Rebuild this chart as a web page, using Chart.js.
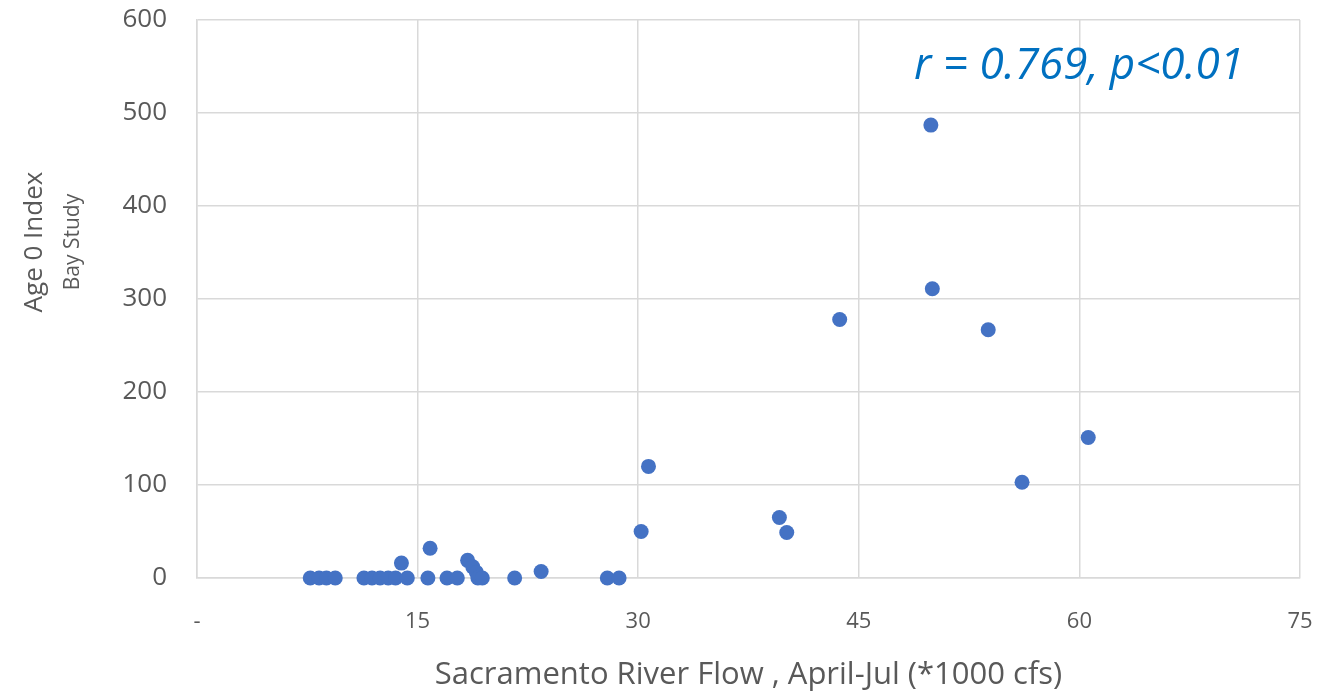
<!DOCTYPE html>
<html>
<head>
<meta charset="utf-8">
<script src="https://cdn.jsdelivr.net/npm/chart.js@4/dist/chart.umd.min.js"></script>
<style>
  html, body { margin: 0; padding: 0; background: #ffffff; }
  #wrap { width: 1329px; height: 694px; position: relative; }
</style>
</head>
<body>
<div id="wrap"><canvas id="scatterChart"></canvas></div>
<script>
// Flujo del río Sacramento (abril-julio, *1000 cfs)
const flowValues = [
  7.7, 8.3, 8.8, 9.4,
  11.35, 11.9, 12.45, 13.0, 13.5, 14.3, 13.9,
  15.7, 15.85, 17.0, 17.7,
  18.4, 18.75, 19.0, 19.1, 19.4,
  21.6, 23.4, 27.9, 28.7,
  30.2, 30.7, 39.6, 40.1, 43.7,
  49.9, 50.0, 53.8, 56.1, 60.6
];
// Índice edad 0 (Bay Study)
const indexValues = [
  0, 0, 0, 0,
  0, 0, 0, 0, 0, 0, 16,
  0, 32, 0, 0,
  19, 12, 6, 0, 0,
  0, 7, 0, 0,
  50, 120, 65, 49, 278,
  487, 311, 267, 103, 151
];
const xTicks = [0, 15, 30, 45, 60, 75];
const yTicks = [0, 100, 200, 300, 400, 500, 600];
const yTitle = "Age 0 Index";
const ySubtitle = "Bay Study";
const xTitle = "Sacramento River Flow , April-Jul (*1000 cfs)";
const statsLabel = "r = 0.769, p<0.01";

const points = flowValues.map((x, i) => ({ x: x, y: indexValues[i] }));

// Títulos del eje Y y texto de correlación
const textPlugin = {
  id: "extraText",
  afterDraw(chart) {
    const ctx = chart.ctx;
    ctx.save();
    ctx.fillStyle = "#595959";
    ctx.textAlign = "center";
    ctx.textBaseline = "middle";
    ctx.translate(35, 242);
    ctx.rotate(-Math.PI / 2);
    ctx.font = "26px 'Open Sans'";
    ctx.fillText(yTitle, 0, 0);
    ctx.font = "21px 'Open Sans'";
    ctx.fillText(ySubtitle, 0, 38);
    ctx.restore();

    ctx.save();
    ctx.fillStyle = "#0070C0";
    ctx.font = "italic 44px 'Open Sans'";
    ctx.textAlign = "left";
    ctx.textBaseline = "alphabetic";
    ctx.fillText(statsLabel, 914, 79);
    ctx.restore();
  },
};

new Chart(document.getElementById("scatterChart"), {
  type: "scatter",
  data: {
    datasets: [
      {
        data: points,
        backgroundColor: "#4472C4",
        borderWidth: 0,
        pointRadius: 7.5,
        pointHoverRadius: 7.5,
        clip: false,
      },
    ],
  },
  options: {
    responsive: true,
    maintainAspectRatio: false,
    animation: false,
    layout: {
      padding: { top: 20, right: 29, left: 0, bottom: 0 },
    },
    plugins: {
      legend: { display: false },
      tooltip: { enabled: false },
    },
    scales: {
      x: {
        type: "linear",
        min: 0,
        max: 75,
        afterBuildTicks: (scale) => {
          scale.ticks = xTicks.map((v) => ({ value: v }));
        },
        afterFit: (scale) => {
          scale.height = 116;
          scale.paddingLeft = 0;
          scale.paddingRight = 0;
        },
        ticks: {
          padding: 31,
          color: "#595959",
          font: { family: "'Open Sans'", size: 22 },
          callback: (v) => (v === 0 ? "-" : v),
        },
        grid: {
          color: "#d9d9d9",
          lineWidth: 1.5,
          drawTicks: false,
        },
        border: { color: "#d9d9d9", width: 1.5 },
        title: {
          display: true,
          text: xTitle,
          color: "#595959",
          font: { family: "'Open Sans'", size: 31 },
          padding: { top: 0, bottom: 0 },
        },
      },
      y: {
        type: "linear",
        min: 0,
        max: 600,
        afterBuildTicks: (scale) => {
          scale.ticks = yTicks.map((v) => ({ value: v }));
        },
        afterFit: (scale) => {
          scale.width = 197;
          scale.paddingTop = 0;
          scale.paddingBottom = 0;
        },
        ticks: {
          padding: 30,
          color: "#595959",
          font: { family: "'Open Sans'", size: 26 },
        },
        grid: {
          color: "#d9d9d9",
          lineWidth: 1.5,
          drawTicks: false,
        },
        border: { color: "#d9d9d9", width: 1.5 },
      },
    },
  },
  plugins: [textPlugin],
});
</script>
</body>
</html>
